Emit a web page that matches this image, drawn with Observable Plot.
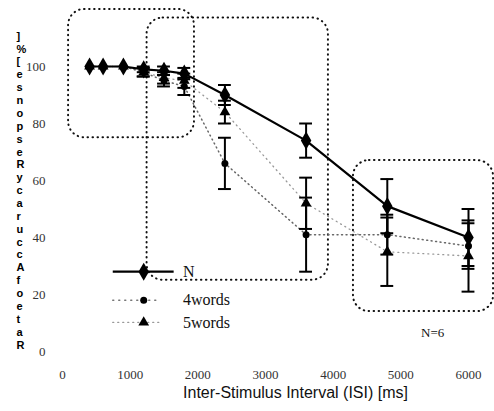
<!DOCTYPE html>
<html>
<head>
<meta charset="utf-8">
<script src="https://cdn.jsdelivr.net/npm/d3@7"></script>
<script src="https://cdn.jsdelivr.net/npm/@observablehq/plot@0.6"></script>
<style>
  html, body { margin: 0; padding: 0; background: #fff; }
  #chart { width: 494px; height: 411px; }
</style>
</head>
<body>
<div id="chart"></div>
<script>
// ---- data ----
const isi    = [400, 600, 900, 1200, 1500, 1800, 2400, 3600, 4800, 6000];
const nVals  = [100, 100, 100, 99, 98.5, 97.5, 90, 74, 51, 40];
const nErr   = [0, 0, 0, 1, 1.5, 2, 3.5, 6, 9.5, 10];
const w4Vals = [100, 100, 100, 98, 95, 93, 66, 41, 41, 37];
const w4Err  = [0, 0, 0, 1.5, 2, 3, 9, 13, 7, 8];
const w5Vals = [100, 100, 100, 98, 96, 95, 84, 52, 35, 33.5];
const w5Err  = [0, 0, 0, 1.5, 2, 2.5, 4, 9, 12, 12.5];

const seriesNames = ["N", "4words", "5words"];
const xTicks = [0, 1000, 2000, 3000, 4000, 5000, 6000];
const yTicks = [0, 20, 40, 60, 80, 100];
const xTitle = "Inter-Stimulus Interval (ISI) [ms]";
const yTitle = "RateofAccuracyResponse[%]"; // printed as stacked upright letters, read bottom to top

// annotation boxes (data units)
const boxX1 = [90, 1250, 4300];
const boxX2 = [1950, 3930, 6370];
const boxY1 = [75, 25, 14];
const boxY2 = [120, 117, 67];
const noteText = ["N=6"];
const noteX = [5470];
const noteY = [6.5];

// legend layout (data units)
const legLineX1 = 750, legLineX2 = 1650, legMarkX = 1200, legTextX = 1780;
const legY = [28, 18, 10.2];

// ---- build tables ----
const mk = (vals, errs, name) => isi.map((x, i) => ({x, y: vals[i], lo: vals[i] - errs[i], hi: vals[i] + errs[i], e: errs[i], s: name}));
const dN = mk(nVals, nErr, seriesNames[0]);
const d4 = mk(w4Vals, w4Err, seriesNames[1]);
const d5 = mk(w5Vals, w5Err, seriesNames[2]);
const all = [...dN, ...d4, ...d5].filter(d => d.e > 0.8);
const boxes = boxX1.map((x, i) => ({x1: x, x2: boxX2[i], y1: boxY1[i], y2: boxY2[i]}));
const notes = noteText.map((t, i) => ({t, x: noteX[i], y: noteY[i]}));
const leg = seriesNames.map((s, i) => ({s, y: legY[i]}));
const yTitleStacked = Array.from(yTitle).reverse().join("\n");

const capHalf = 95;

const chart = Plot.plot({
  width: 494,
  height: 411,
  marginLeft: 62,
  marginRight: 26,
  marginTop: 66,
  marginBottom: 60,
  style: {fontFamily: "Liberation Serif, serif", fontSize: "13px", background: "#fff", color: "#333", overflow: "visible"},
  x: {domain: [0, 6000], ticks: xTicks, tickFormat: d => String(d), tickSize: 0, tickPadding: 18, label: null},
  y: {domain: [0, 100], ticks: yTicks, tickFormat: d => String(d), tickSize: 0, tickPadding: 17, label: null},
  marks: [
    // annotation boxes
    Plot.rect(boxes, {x1: "x1", x2: "x2", y1: "y1", y2: "y2", rx: 16, fill: "none", stroke: "#111", strokeWidth: 2, strokeDasharray: "0.5,4.5", strokeLinecap: "round"}),
    // series lines
    Plot.line(d5, {x: "x", y: "y", stroke: "#999", strokeWidth: 1.3, strokeDasharray: "1,4", strokeLinecap: "round"}),
    Plot.line(d4, {x: "x", y: "y", stroke: "#666", strokeWidth: 1.5, strokeDasharray: "1,3.5", strokeLinecap: "round"}),
    Plot.line(dN, {x: "x", y: "y", stroke: "#000", strokeWidth: 2.2}),
    // error bars
    Plot.ruleX(all, {x: "x", y1: "lo", y2: "hi", stroke: "#000", strokeWidth: 2}),
    Plot.ruleY(all, {y: "hi", x1: d => d.x - capHalf, x2: d => d.x + capHalf, stroke: "#000", strokeWidth: 2}),
    Plot.ruleY(all, {y: "lo", x1: d => d.x - capHalf, x2: d => d.x + capHalf, stroke: "#000", strokeWidth: 2}),
    // markers
    Plot.dot(d5, {x: "x", y: "y", symbol: "triangle", r: 4, fill: "#000"}),
    Plot.dot(d4, {x: "x", y: "y", symbol: "circle", r: 3.5, fill: "#000"}),
    Plot.dot(dN, {x: "x", y: "y", symbol: "diamond", r: 5.5, fill: "#000"}),
    // legend
    Plot.ruleY([leg[0]], {y: "y", x1: legLineX1, x2: legLineX2, stroke: "#000", strokeWidth: 2.2}),
    Plot.ruleY([leg[1]], {y: "y", x1: legLineX1, x2: legLineX2 - 200, stroke: "#777", strokeWidth: 1.5, strokeDasharray: "1,5", strokeLinecap: "round"}),
    Plot.ruleY([leg[2]], {y: "y", x1: legLineX1, x2: legLineX2 - 200, stroke: "#999", strokeWidth: 1.3, strokeDasharray: "1,4", strokeLinecap: "round"}),
    Plot.dot([leg[0]], {x: legMarkX, y: "y", symbol: "diamond", r: 5.5, fill: "#000"}),
    Plot.dot([leg[1]], {x: legMarkX, y: "y", symbol: "circle", r: 3.5, fill: "#000"}),
    Plot.dot([leg[2]], {x: legMarkX, y: "y", symbol: "triangle", r: 4, fill: "#000"}),
    Plot.text(leg, {x: legTextX, y: "y", text: "s", textAnchor: "start", fontSize: 16, fontFamily: "Liberation Serif, serif", fill: "#111"}),
    // note
    Plot.text(notes, {x: "x", y: "y", text: "t", fontSize: 13, fontFamily: "Liberation Serif, serif", fill: "#111"}),
    // axis titles
    Plot.text([xTitle], {frameAnchor: "bottom", dx: 30, dy: 46, fontSize: 16, fontFamily: "Liberation Sans, Arial, sans-serif", fill: "#111"}),
    Plot.text([yTitleStacked], {frameAnchor: "left", dx: -46, dy: -19, lineAnchor: "middle", lineHeight: 1.17, fontSize: 11, fontWeight: "bold", fontFamily: "Liberation Sans, Arial, sans-serif", fill: "#000"})
  ]
});

document.getElementById("chart").appendChild(chart);
</script>
</body>
</html>
